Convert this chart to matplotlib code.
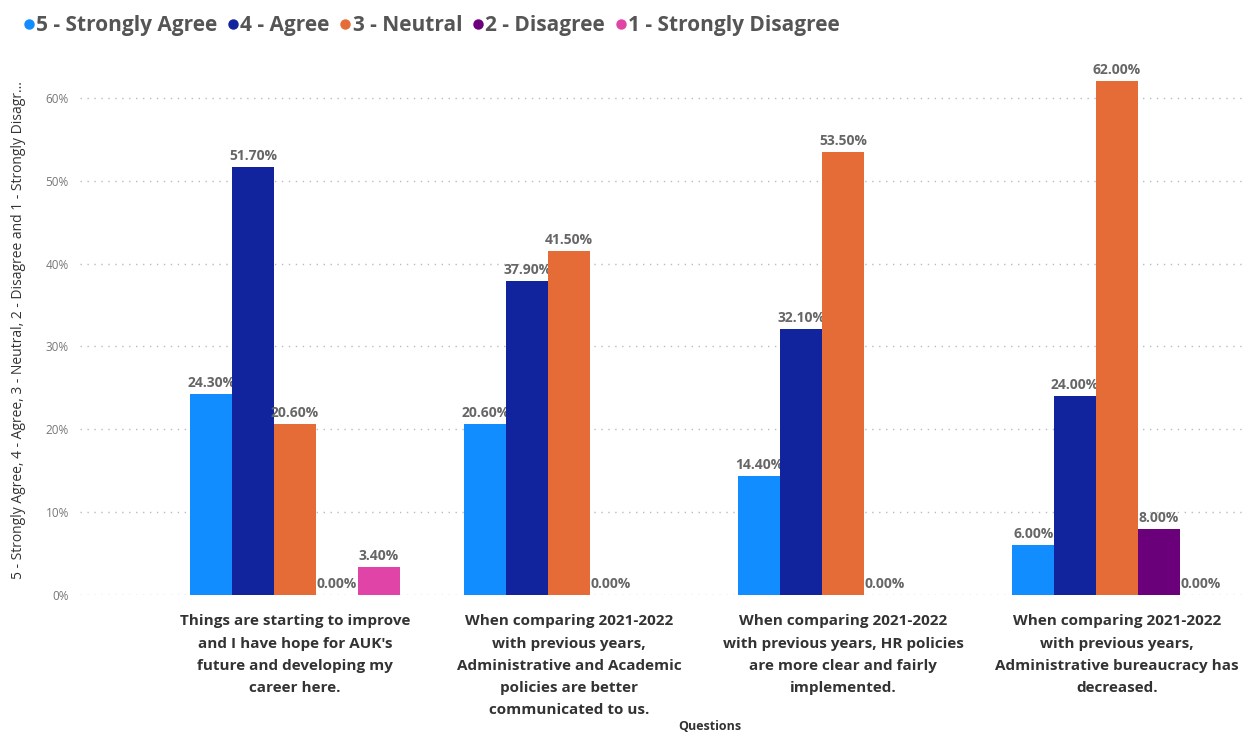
import numpy as np
import matplotlib.pyplot as plt
from matplotlib.lines import Line2D

questions = [
    "Things are starting to improve\nand I have hope for AUK's\nfuture and developing my\ncareer here.",
    "When comparing 2021-2022\nwith previous years,\nAdministrative and Academic\npolicies are better\ncommunicated to us.",
    "When comparing 2021-2022\nwith previous years, HR policies\nare more clear and fairly\nimplemented.",
    "When comparing 2021-2022\nwith previous years,\nAdministrative bureaucracy has\ndecreased.",
]
series = ["5 - Strongly Agree", "4 - Agree", "3 - Neutral", "2 - Disagree", "1 - Strongly Disagree"]
strongly_agree = [24.3, 20.6, 14.4, 6.0]
agree = [51.7, 37.9, 32.1, 24.0]
neutral = [20.6, 41.5, 53.5, 62.0]
disagree = [0.0, 0.0, 0.0, 8.0]
strongly_disagree = [3.4, np.nan, np.nan, 0.0]
colors = ["#118DFF", "#12239E", "#E66C37", "#6B007B", "#E044A7"]

values = [strongly_agree, agree, neutral, disagree, strongly_disagree]

plt.rcParams['font.family'] = ['Open Sans', 'DejaVu Sans']

fig = plt.figure(figsize=(12.58, 7.35), dpi=100)
ax = fig.add_axes([0.0636, 0.1905, 0.926, 0.728])

x = np.arange(len(questions))
w = 0.153
for i, (name, vals, c) in enumerate(zip(series, values, colors)):
    pos = x + (i - 2) * w
    v = np.array(vals, dtype=float)
    ax.bar(pos, np.nan_to_num(v), width=w, color=c, label=name, zorder=3)
    for p, val in zip(pos, v):
        if np.isnan(val):
            continue
        ax.annotate(f"{val:.2f}%", (p, val), xytext=(0, 3), textcoords="offset points",
                    ha="center", va="bottom", fontsize=10, fontweight="bold", color="#666666")

ax.set_xlim(-0.785, 3.467)
ax.set_ylim(0, 64.6)
ax.set_yticks(range(0, 61, 10))
ax.set_yticklabels([f"{t}%" for t in range(0, 61, 10)], fontsize=8.5, color="#777777")
ax.set_xticks(x)
ax.set_xticklabels(questions, fontsize=11, fontweight="bold", color="#333333", linespacing=1.75)
ax.tick_params(axis="both", length=0)
ax.tick_params(axis="x", pad=14)
ax.tick_params(axis="y", pad=8)
ax.grid(axis="y", linestyle=(0, (1, 4)), color="#bbbbbb", linewidth=1, zorder=0)
for s in ax.spines.values():
    s.set_visible(False)

fig.text(710 / 1258, 1 - 727 / 735, "Questions", ha="center", va="center",
         fontsize=9, fontweight="bold", color="#333333")
fig.text(0.015, 1 - 330 / 735, "5 - Strongly Agree, 4 - Agree, 3 - Neutral, 2 - Disagree and 1 - Strongly Disagr...",
         rotation=90, ha="center", va="center", fontsize=10, color="#333333")

handles = [Line2D([], [], marker="o", linestyle="none", markersize=6.5, color=c) for c in colors]
leg = fig.legend(handles, series, loc="upper left", bbox_to_anchor=(0.004, 1.005), ncol=5, frameon=False,
                 handlelength=0.5, handletextpad=0.1, columnspacing=0.5,
                 prop={"size": 15, "weight": "bold"})
for t in leg.get_texts():
    t.set_color("#555555")

fig.savefig("out.png", dpi=100)
